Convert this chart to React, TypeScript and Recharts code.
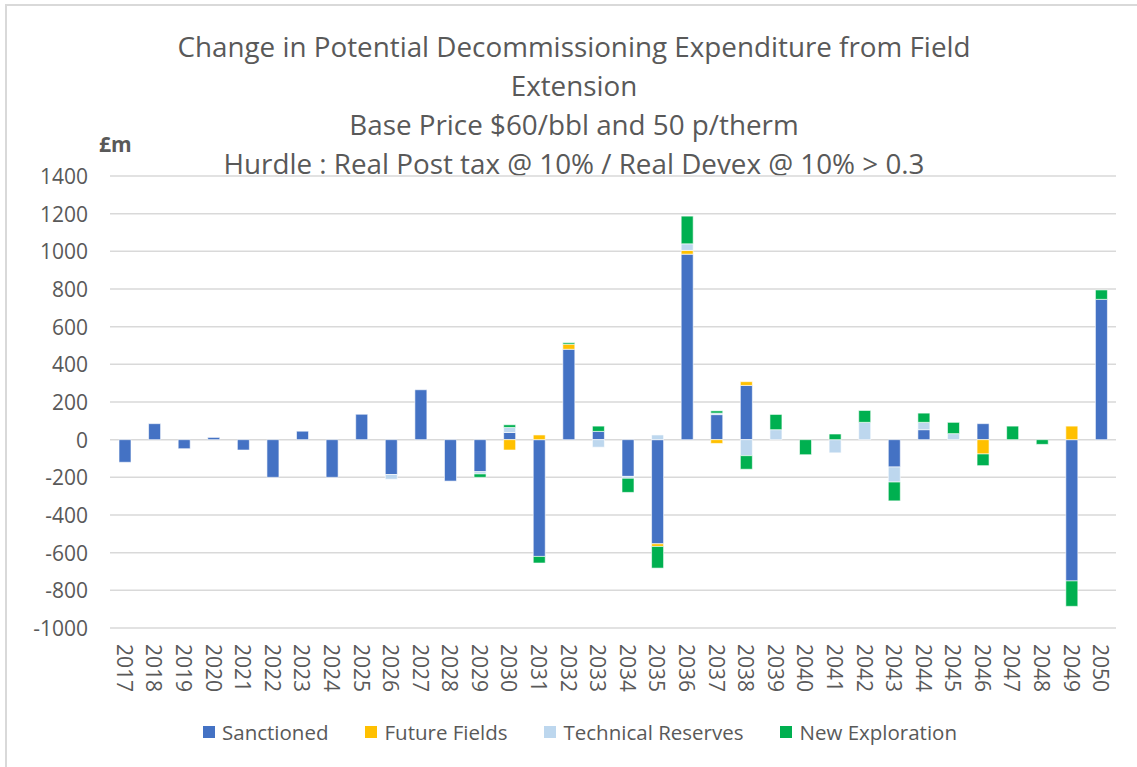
import React from "react";
import { BarChart, Bar, XAxis, YAxis, CartesianGrid, Legend } from "recharts";

const years = [
    "2017", "2018", "2019", "2020", "2021", "2022", "2023", "2024", "2025", "2026", "2027", "2028",
    "2029", "2030", "2031", "2032", "2033", "2034", "2035", "2036", "2037", "2038", "2039", "2040",
    "2041", "2042", "2043", "2044", "2045", "2046", "2047", "2048", "2049", "2050",
];

const sanctioned = [
    -120, 85, -48, 12, -55, -200, 45, -200, 135, -185, 265, -220,
    -170, 38, -620, 480, 44, -195, -553, 985, 133, 288, 0, 0,
    0, 0, -145, 53, 0, 85, 0, 0, -750, 745,
];

const futureFields = [
    0, 0, 0, 0, 0, 0, 0, 0, 0, 0, 0, 0,
    0, -55, 25, 27, 0, 0, -14, 20, -20, 20, 0, 0,
    0, 0, 0, 0, 0, -76, 0, 0, 72, 0,
];

const technicalReserves = [
    0, 0, 0, 0, 0, 0, 0, 0, 0, -25, 0, 0,
    -12, 27, 0, 0, -40, -10, 25, 35, 8, -85, 53, 0,
    -70, 92, -80, 39, 32, 0, 0, 0, 0, 0,
];

const newExploration = [
    0, 0, 0, 0, 0, 0, 0, 0, 0, 0, 0, 0,
    -18, 14, -35, 8, 28, -75, -115, 147, 12, -72, 81, -80,
    30, 63, -100, 49, 60, -62, 72, -25, -135, 50,
];

const yTicks = [-1000, -800, -600, -400, -200, 0, 200, 400, 600, 800, 1000, 1200, 1400];

const titleLines = [
    "Change in Potential Decommissioning Expenditure from Field",
    "Extension",
    "Base Price $60/bbl and 50 p/therm",
    "Hurdle : Real Post tax @ 10% / Real Devex @ 10% > 0.3",
];

const series = [
    { key: "sanctioned", name: "Sanctioned", color: "#4472C4" },
    { key: "futureFields", name: "Future Fields", color: "#FFC000" },
    { key: "technicalReserves", name: "Technical Reserves", color: "#BDD7EE" },
    { key: "newExploration", name: "New Exploration", color: "#00B050" },
];

const data = years.map((year, i) => ({
    year,
    sanctioned: sanctioned[i],
    futureFields: futureFields[i],
    technicalReserves: technicalReserves[i],
    newExploration: newExploration[i],
}));

const font = "'Open Sans', sans-serif";
const grey = "#595959";

const YTick = (props: any) => {
    const { y, payload } = props;
    return (
        <text x={88} y={y} textAnchor="end" dominantBaseline="central" fontFamily={font} fontSize={21} fill={grey}>
            {payload.value}
        </text>
    );
};

const XTick = (props: any) => {
    const { x, y, payload } = props;
    return (
        <g transform={`translate(${x},${y + 8})`}>
            <text transform="rotate(90)" x={0} y={0} textAnchor="start" dominantBaseline="central" fontFamily={font} fontSize={21} fill={grey}>
                {payload.value}
            </text>
        </g>
    );
};

const LegendContent = () => (
    <div
        style={{
            display: "flex",
            justifyContent: "center",
            gap: 37,
            paddingLeft: 44,
            fontFamily: font,
            fontSize: 20.5,
            color: grey,
            lineHeight: "30px",
        }}
    >
        {series.map((s) => (
            <div key={s.key} style={{ display: "flex", alignItems: "center" }}>
                <span style={{ display: "inline-block", width: 12, height: 12, background: s.color, marginRight: 7 }} />
                {s.name}
            </div>
        ))}
    </div>
);

const App: React.FC = () => {
    return (
        <div style={{ position: "relative", width: 1137, height: 767, overflow: "hidden", background: "#fff" }}>
            <style>{"body{margin:0}"}</style>
            <div
                style={{
                    position: "absolute",
                    left: 5,
                    top: 4,
                    width: 2000,
                    height: 2000,
                    border: "2px solid #d9d9d9",
                }}
            />
            <div
                style={{
                    position: "absolute",
                    left: 0,
                    top: 27,
                    width: 1148,
                    textAlign: "center",
                    fontFamily: font,
                    fontSize: 27.8,
                    lineHeight: "39px",
                    color: grey,
                }}
            >
                {titleLines.map((t) => (
                    <div key={t}>{t}</div>
                ))}
            </div>
            <div
                style={{
                    position: "absolute",
                    left: 99,
                    top: 129,
                    fontFamily: font,
                    fontSize: 21,
                    fontWeight: "bold",
                    color: grey,
                    lineHeight: "30px",
                }}
            >
                £m
            </div>
            <div style={{ position: "absolute", left: 0, top: 0 }}>
                <BarChart
                    width={1137}
                    height={767}
                    data={data}
                    stackOffset="sign"
                    barSize={12}
                    margin={{ top: 176, right: 21, bottom: 0, left: 0 }}
                >
                    <CartesianGrid vertical={false} stroke="#d9d9d9" strokeWidth={1.5} />
                    <XAxis
                        dataKey="year"
                        interval={0}
                        axisLine={false}
                        tickLine={false}
                        height={89}
                        tick={<XTick />}
                    />
                    <YAxis
                        width={110}
                        domain={[-1000, 1400]}
                        ticks={yTicks}
                        interval={0}
                        axisLine={false}
                        tickLine={false}
                        tick={<YTick />}
                    />
                    <Legend verticalAlign="bottom" height={50} content={<LegendContent />} />
                    {series.map((s) => (
                        <Bar
                            key={s.key}
                            dataKey={s.key}
                            name={s.name}
                            stackId="a"
                            fill={s.color}
                            stroke="#ffffff"
                            strokeWidth={0.6}
                            isAnimationActive={false}
                        />
                    ))}
                </BarChart>
            </div>
        </div>
    );
};

export default App;
